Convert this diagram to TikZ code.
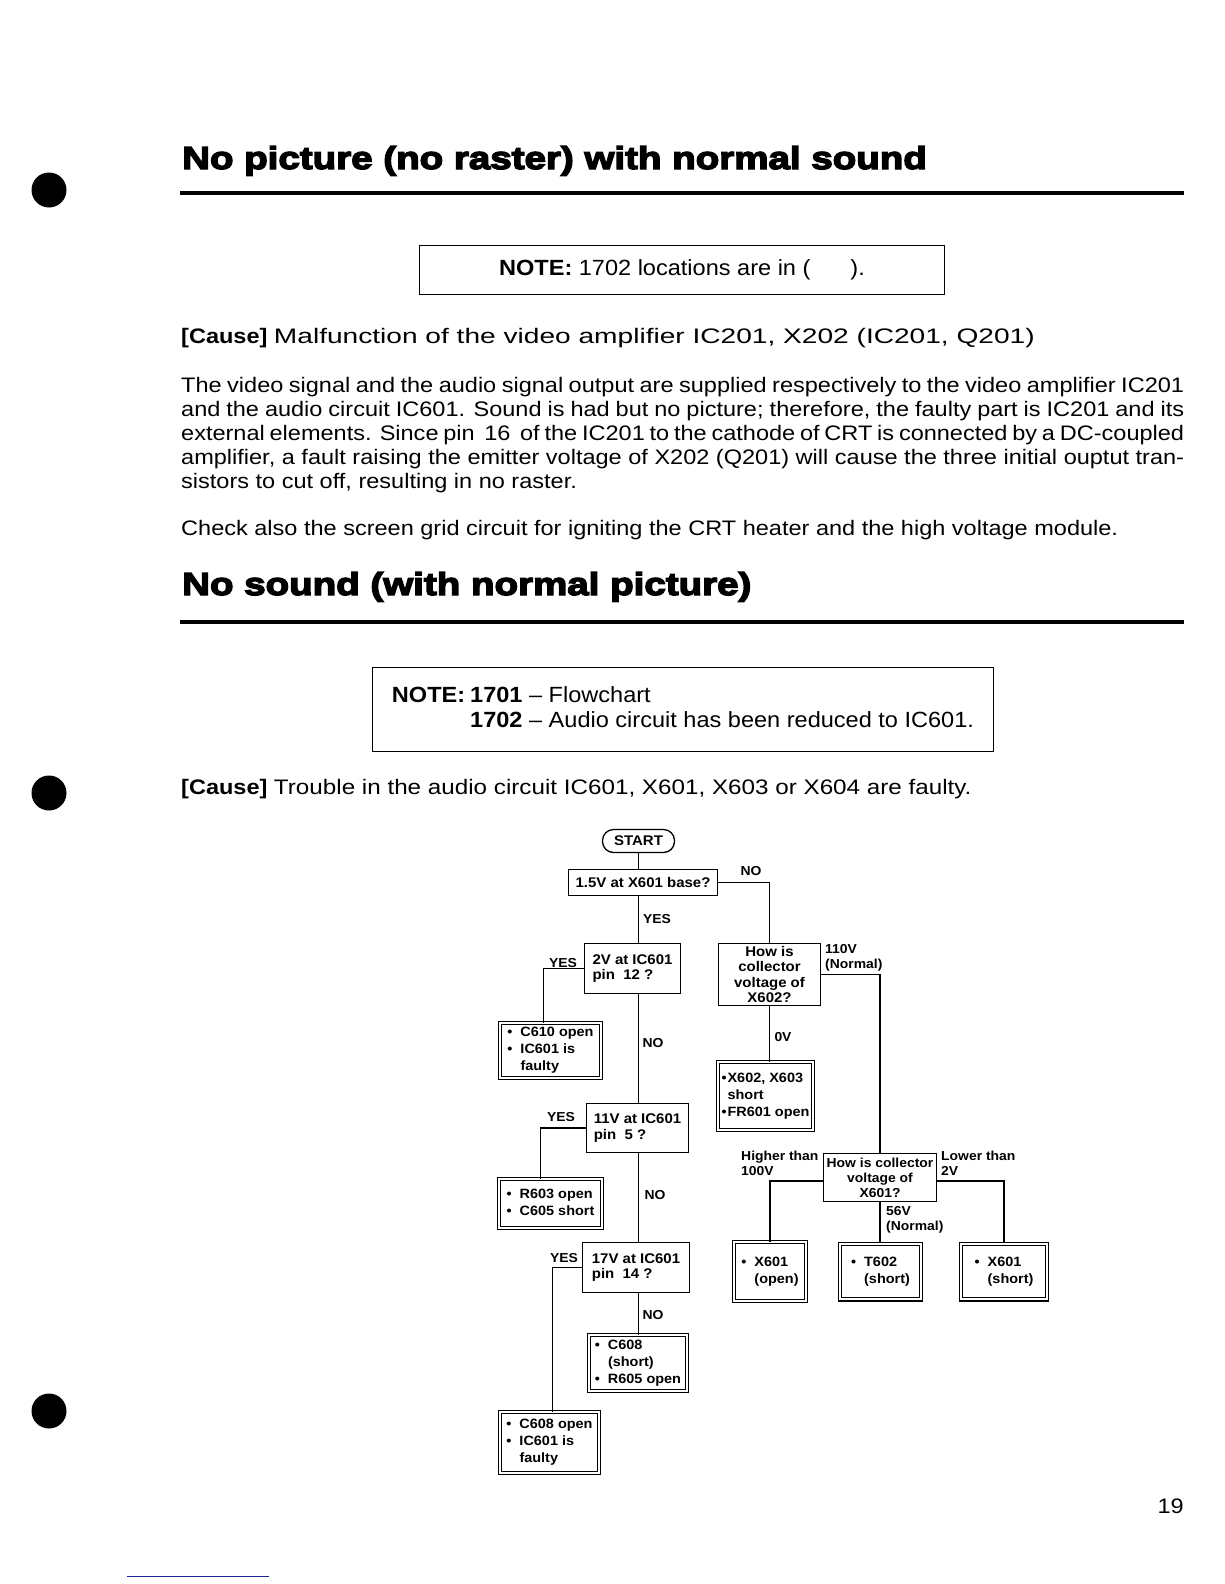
\documentclass[tikz,border=0pt]{standalone}
\usepackage{fontspec}
\setmainfont{Liberation Sans}[FakeStretch=1.07]
\newfontfamily\bodyfont{Liberation Sans}[FakeStretch=1.12]
\newfontfamily\headfont{Liberation Sans Bold}[FakeStretch=1.215,FakeBold=4.5]
\definecolor{linkblue}{RGB}{25,35,150}
\tikzset{
  head/.style={font=\headfont\fontsize{31.7}{36}\selectfont, inner sep=0pt},
  body/.style={font=\bodyfont\fontsize{21}{24}\selectfont, inner sep=0pt},
  notebox/.style={draw, line width=1.4pt, inner sep=0pt, font=\fontsize{22}{25}\selectfont},
  rulebar/.style={line width=4pt},
  qbox/.style={draw, line width=1.3pt, inner sep=0pt, align=left, font=\fontsize{14}{15.5}\selectfont\bfseries},
  fault/.style={draw, line width=1.1pt, double, double distance=2pt, inner sep=0pt, font=\fontsize{13.5}{17}\selectfont\bfseries},
  lbl/.style={inner sep=0pt, align=left, font=\fontsize{13}{15}\selectfont\bfseries},
  flow/.style={line width=1.2pt},
}
\begin{document}
\begin{tikzpicture}[x=1pt,y=-1pt]
\useasboundingbox (0,0) rectangle (1224,1584);
\fill[white] (0,0) rectangle (1224,1584);
\foreach \y in {190,793,1411} \fill (49,\y) circle (17.5pt);

\node[head, anchor=base west] (title1) at (182,169) {No picture (no raster) with normal sound};
\draw[rulebar] (180,193) -- (1184,193);
\node[notebox, minimum width=525pt, minimum height=49pt] (note1) at (682,270) {\raisebox{-3pt}{\textbf{NOTE:} 1702 locations are in (\hspace{40pt}).}};
\node[body, anchor=base west] (cause1) at (181,343) {\textbf{[Cause]} \scalebox{1.195}[1]{Malfunction of the video amplifier IC201, X202 (IC201, Q201)}};
\foreach \rowtext [count=\i] in {
  {The video signal and the audio signal output are supplied respectively to the video amplifier IC201},
  {and the audio circuit IC601. Sound is had but no picture; therefore, the faulty part is IC201 and its},
  {external elements. Since pin \ 16 \ of the IC201 to the cathode of CRT is connected by a DC-coupled},
  {amplifier, a fault raising the emitter voltage of X202 (Q201) will cause the three initial ouptut tran-}}
  \node[body, anchor=base west] (para\i) at (181,368+24*\i) {\makebox[1003pt][s]{\rowtext}};
\node[body, anchor=base west] (para5) at (181,488) {sistors to cut off, resulting in no raster.};
\node[body, anchor=base west] (check) at (181,535) {Check also the screen grid circuit for igniting the CRT heater and the high voltage module.};

\node[head, anchor=base west] (title2) at (182,595) {No sound (with normal picture)};
\draw[rulebar] (180,622) -- (1184,622);
\node[notebox, minimum width=621pt, minimum height=84pt] (note2) at (683,709.5) {\raisebox{-3.5pt}{\begin{tabular}{@{}l@{}l@{}}\textbf{NOTE:}\kern5pt&\textbf{1701} -- Flowchart\\&\textbf{1702} -- Audio circuit has been reduced to IC601.\end{tabular}}};
\node[body, anchor=base west] (cause2) at (181,794) {\textbf{[Cause]} \scalebox{1.03}[1]{Trouble in the audio circuit IC601, X601, X603 or X604 are faulty.}};

\node[qbox, rounded corners=11pt, minimum width=72pt, minimum height=23pt] (start) at (638.5,841) {START};
\node[qbox, minimum width=149pt, minimum height=26pt] (q1) at (643,882.5) {1.5V at X601 base?};
\node[qbox, minimum width=96pt, minimum height=50pt] (q2) at (632.5,968.5) {2V at IC601\\pin\ \ 12 ?};
\node[qbox, minimum width=102pt, minimum height=49pt] (q4) at (637.5,1128) {11V at IC601\\pin\ \ 5 ?};
\node[qbox, minimum width=107pt, minimum height=50pt] (q5) at (636,1267.5) {17V at IC601\\pin\ \ 14 ?};
\node[qbox, align=center, minimum width=102pt, minimum height=62pt] (q3) at (769.5,974.5) {How is\\collector\\voltage of\\X602?};
\node[qbox, align=center, font=\fontsize{13}{15}\selectfont\bfseries, minimum width=113pt, minimum height=48pt] (q6) at (880,1177.5) {How is collector\\voltage of\\X601?};

\node[fault, minimum width=100.8pt, minimum height=54.8pt] (c610) at (550.5,1050.5) {\begin{tabular}{@{}l@{\hspace{8pt}}l@{}}•&C610 open\\•&IC601 is\\&faulty\end{tabular}};
\node[fault, minimum width=102.8pt, minimum height=48.8pt] (r603) at (550.5,1203.5) {\begin{tabular}{@{}l@{\hspace{8pt}}l@{}}•&R603 open\\•&C605 short\end{tabular}};
\node[fault, minimum width=97.8pt, minimum height=55.8pt] (c608s) at (638,1363) {\begin{tabular}{@{}l@{\hspace{8pt}}l@{}}•&C608\\&(short)\\•&R605 open\end{tabular}};
\node[fault, minimum width=98.8pt, minimum height=60.8pt] (c608o) at (549.5,1442.5) {\begin{tabular}{@{}l@{\hspace{8pt}}l@{}}•&C608 open\\•&IC601 is\\&faulty\end{tabular}};
\node[fault, minimum width=94.8pt, minimum height=67.8pt] (x602) at (765.5,1096) {\begin{tabular}{@{}l@{\hspace{1pt}}l@{}}•&X602, X603\\&short\\•&FR601 open\end{tabular}};
\node[fault, minimum width=71.8pt, minimum height=58.8pt] (x601o) at (770,1271.5) {\begin{tabular}{@{}l@{\hspace{8pt}}l@{}}•&X601\\&(open)\end{tabular}};
\node[fault, minimum width=80.8pt, minimum height=55.8pt] (t602) at (880.5,1271.5) {\begin{tabular}{@{}l@{\hspace{8pt}}l@{}}•&T602\\&(short)\end{tabular}};
\node[fault, minimum width=85.8pt, minimum height=55.8pt] (x601s) at (1004,1271.5) {\begin{tabular}{@{}l@{\hspace{8pt}}l@{}}•&X601\\&(short)\end{tabular}};

\draw[flow] (start.south) -- (start.south |- q1.north);
\draw[flow] (q1.south -| start) -- (q2.north -| start);
\draw[flow] (q2.south -| start) -- (q4.north -| start);
\draw[flow] (q4.south -| start) -- (q5.north -| start);
\draw[flow] (q5.south -| start) -- (c608s.north -| start);
\draw[flow] (q1.east) -| (q3.north);
\draw[flow] (q2.west) -| ([xshift=-7pt]c610.north);
\draw[flow] (q4.west) -| ([xshift=-10pt]r603.north);
\draw[flow] (q5.west) -| ([xshift=3pt]c608o.north);
\draw[flow] (q3.south) -- (q3.south |- x602.north);
\draw[flow] (q3.east) -| (q6.north);
\draw[flow] ([yshift=-3.5pt]q6.west) -| (x601o.north);
\draw[flow] ([yshift=-3.5pt]q6.east) -| (x601s.north);
\draw[flow] (q6.south) -- (q6.south |- t602.north);

\foreach \x/\y/\word [count=\i] in {751/871/NO, 657/919/YES, 563/963/YES, 653/1043/NO, 561/1117/YES, 655/1195/NO, 564/1258/YES, 653/1315/NO, 783/1037/0V}
  \node[lbl] (ans\i) at (\x,\y) {\word};
\node[lbl, anchor=west] (v110) at (825,958) {110V\\(Normal)};
\node[lbl, anchor=west] (vhigh) at (741,1163) {Higher than\\100V};
\node[lbl, anchor=west] (vlow) at (941,1163) {Lower than\\2V};
\node[lbl, anchor=west] (v56) at (886,1220) {56V\\(Normal)};

\node[body, anchor=base east] (pageno) at (1184,1513) {19};
\draw[linkblue, line width=1pt] (127,1576) -- (269,1576);
\end{tikzpicture}
\end{document}
